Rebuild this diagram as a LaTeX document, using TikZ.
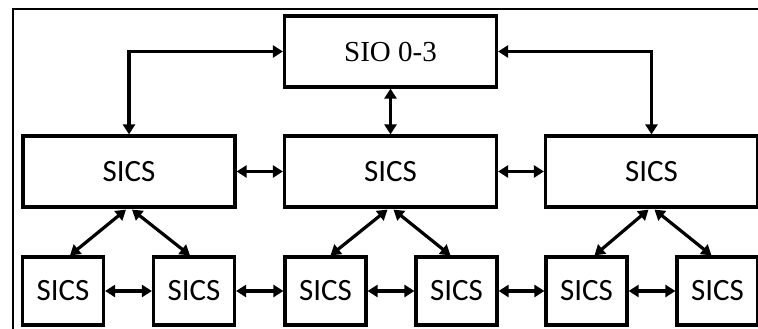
\documentclass[tikz,border=0pt]{standalone}
\usepackage{fontspec}
\setmainfont{Liberation Serif}
\newfontfamily\sicsfont{Carlito}
\usetikzlibrary{arrows.meta}
\begin{document}
\begin{tikzpicture}[x=1pt,y=-1pt,
  box/.style={draw=black,line width=3.2pt,inner sep=0pt,anchor=center},
  bigbox/.style={box,minimum width=212pt,minimum height=71pt},
  smallbox/.style={box,minimum width=81pt,minimum height=68pt},
  lbl/.style={font=\sicsfont\fontsize{31}{33}\selectfont},
  conn/.style={line width=3.2pt,{Triangle[length=10pt,width=12pt]}-{Triangle[length=10pt,width=12pt]}}
]
\useasboundingbox (0,0) rectangle (758,329);
\draw[line width=1.6pt] (13,340) -- (13,9) -- (770,9);
% top
\node[bigbox,font=\fontsize{29}{31}\selectfont] (sio) at (390.5,51.5) {SIO 0-3};
% middle row
\node[bigbox,lbl] (s1) at (129,171.5) {SICS};
\node[bigbox,lbl] (s2) at (390.5,171.5) {SICS};
\node[bigbox,lbl] (s3) at (651.5,171.5) {SICS};
% bottom row
\node[smallbox,lbl] (b1) at (63,291) {SICS};
\node[smallbox,lbl] (b2) at (194,291) {SICS};
\node[smallbox,lbl] (b3) at (325.5,291) {SICS};
\node[smallbox,lbl] (b4) at (456.5,291) {SICS};
\node[smallbox,lbl] (b5) at (586.5,291) {SICS};
\node[smallbox,lbl] (b6) at (717.5,291) {SICS};
% top connectors
\draw[conn] (sio.west) -| (s1.north);
\draw[conn] (sio.east) -| (s3.north);
\draw[conn] (sio.south) -- (s2.north);
% middle row horizontal
\draw[conn] (s1.east) -- (s2.west);
\draw[conn] (s2.east) -- (s3.west);
% bottom row horizontal
\draw[conn] (b1.east) -- (b2.west);
\draw[conn] (b2.east) -- (b3.west);
\draw[conn] (b3.east) -- (b4.west);
\draw[conn] (b4.east) -- (b5.west);
\draw[conn] (b5.east) -- (b6.west);
% diagonals
\draw[conn] ([xshift=-3pt,yshift=-1pt]s1.south) -- ([xshift=7pt]b1.north);
\draw[conn] ([xshift=3pt,yshift=-1pt]s1.south) -- ([xshift=-4pt]b2.north);
\draw[conn] ([xshift=-3pt,yshift=-1pt]s2.south) -- ([xshift=5pt]b3.north);
\draw[conn] ([xshift=3pt,yshift=-1pt]s2.south) -- ([xshift=-6pt]b4.north);
\draw[conn] ([xshift=-3pt,yshift=-1pt]s3.south) -- ([xshift=8pt]b5.north);
\draw[conn] ([xshift=3pt,yshift=-1pt]s3.south) -- ([xshift=-6pt]b6.north);
\end{tikzpicture}
\end{document}
